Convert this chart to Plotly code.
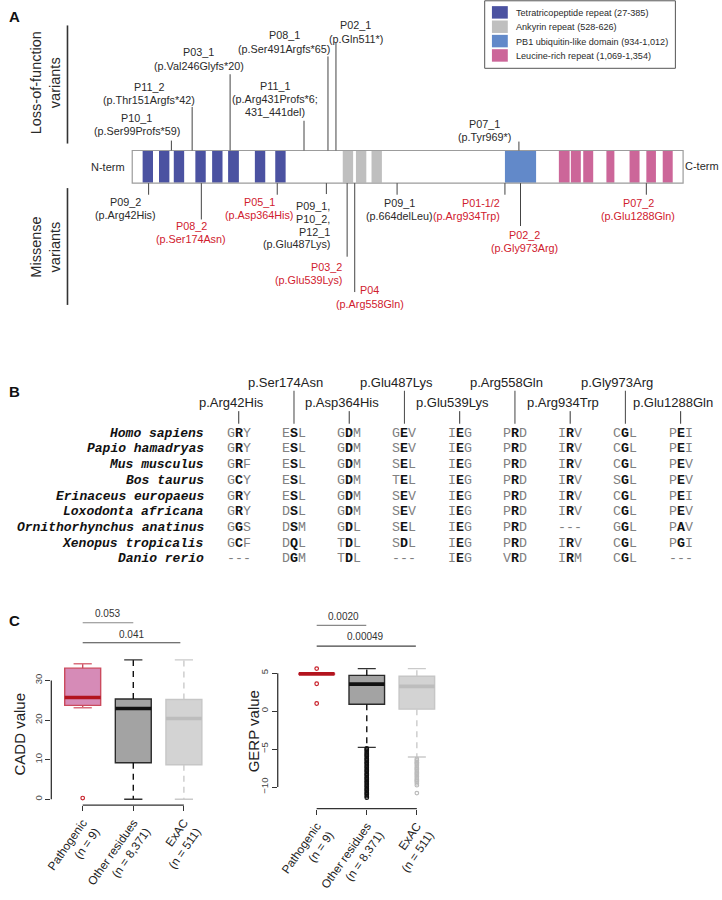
import plotly.graph_objects as go

W, H = 722, 900


def px(v):
    return v / W


def py(v):
    return 1 - v / H


SANS = "Liberation Sans, Arial, sans-serif"
MONO = "Liberation Mono, Courier New, monospace"
RED = "#D0202E"
DARK = "#2A2A2A"

# ---------------------------------------------------------------- data
protein_length = 1380
domain_names = ["Tetratricopeptide repeat (27-385)", "Ankyrin repeat (528-626)",
                "PB1 ubiquitin-like domain (934-1,012)", "Leucine-rich repeat (1,069-1,354)"]
domain_colors = ["#4B52A1", "#BFBFBF", "#6289C9", "#CC6699"]
tpr_starts = [27, 68, 105, 159, 201, 241, 308, 359]
tpr_ends = [53, 94, 131, 185, 227, 268, 334, 385]
ank_starts = [528, 561, 600]
ank_ends = [554, 587, 626]
pb1_starts = [934]
pb1_ends = [1012]
lrr_starts = [1069, 1099, 1130, 1188, 1246, 1288, 1329]
lrr_ends = [1096, 1124, 1155, 1208, 1271, 1312, 1354]

lof_ids = ["P10_1", "P11_2", "P03_1", "P11_1", "P08_1", "P02_1", "P07_1"]
lof_pos = [99, 151, 246, 431, 491, 511, 969]
lof_hgvs = ["(p.Ser99Profs*59)", "(p.Thr151Argfs*42)", "(p.Val246Glyfs*20)",
            "(p.Arg431Profs*6;|431_441del)", "(p.Ser491Argfs*65)", "(p.Gln511*)", "(p.Tyr969*)"]

mis_ids = ["P09_2", "P08_2", "P05_1", "P09_1,|P10_2,|P12_1", "P03_2", "P04", "P09_1",
           "P01-1/2", "P02_2", "P07_2"]
mis_pos = [42, 174, 364, 487, 539, 558, 664, 934, 973, 1288]
mis_hgvs = ["(p.Arg42His)", "(p.Ser174Asn)", "(p.Asp364His)", "(p.Glu487Lys)", "(p.Glu539Lys)",
            "(p.Arg558Gln)", "(p.664delLeu)", "(p.Arg934Trp)", "(p.Gly973Arg)", "(p.Glu1288Gln)"]
mis_pathogenic = [False, True, True, False, True, True, False, True, True, True]

species = ["Homo sapiens", "Papio hamadryas", "Mus musculus", "Bos taurus",
           "Erinaceus europaeus", "Loxodonta africana", "Ornithorhynchus anatinus",
           "Xenopus tropicalis", "Danio rerio"]
aln_variants = ["p.Arg42His", "p.Ser174Asn", "p.Asp364His", "p.Glu487Lys", "p.Glu539Lys",
                "p.Arg558Gln", "p.Arg934Trp", "p.Gly973Arg", "p.Glu1288Gln"]
aln_arg42 = ["GRY", "GRY", "GRF", "GCY", "GRY", "GRY", "GGS", "GCF", "---"]
aln_ser174 = ["ESL", "ESL", "ESL", "ESL", "ESL", "DSL", "DSM", "DQL", "DGM"]
aln_asp364 = ["GDM", "GDM", "GDM", "GDM", "GDM", "GDM", "GDL", "TDL", "TDL"]
aln_glu487 = ["GEV", "SEV", "SEL", "TEL", "SEV", "SEV", "SEL", "SDL", "---"]
aln_glu539 = ["IEG", "IEG", "IEG", "IEG", "IEG", "IEG", "IEG", "IEG", "IEG"]
aln_arg558 = ["PRD", "PRD", "PRD", "PRD", "PRD", "PRD", "PRD", "PRD", "VRD"]
aln_arg934 = ["IRV", "IRV", "IRV", "IRV", "IRV", "IRV", "---", "IRV", "IRM"]
aln_gly973 = ["CGL", "CGL", "CGL", "SGL", "CGL", "CGL", "GGL", "CGL", "CGL"]
aln_glu1288 = ["PEI", "PEI", "PEV", "PEV", "PEI", "PEV", "PAV", "PGI", "---"]

groups = ["Pathogenic", "Other residues", "ExAC"]
group_n = ["9", "8,371", "511"]
cadd_q1 = [23.7, 9.2, 8.7]
cadd_med = [25.7, 22.9, 20.4]
cadd_q3 = [33.1, 25.3, 25.2]
cadd_lo = [23.1, 0.0, 0.0]
cadd_hi = [34.2, 35.2, 35.2]
cadd_out_path = [0.3]
cadd_out_other = []
cadd_out_exac = []
cadd_ticks = [0, 10, 20, 30]
cadd_p = ["0.053", "0.041"]

gerp_q1 = [4.85, 0.91, 0.26]
gerp_med = [4.9, 3.56, 3.26]
gerp_q3 = [4.95, 4.7, 4.6]
gerp_lo = [4.85, -4.78, -6.05]
gerp_hi = [4.95, 5.6, 5.6]
gerp_out_path = [5.6, 3.6, 1.0]
gerp_out_other = [-4.9, -5.05, -5.2, -5.4, -5.55, -5.7, -5.85, -6.0, -6.2, -6.35, -6.5, -6.7,
                  -6.85, -7.0, -7.2, -7.35, -7.5, -7.7, -7.85, -8.0, -8.2, -8.35, -8.5, -8.7,
                  -8.85, -9.0, -9.2, -9.35, -9.5, -9.7, -9.85, -10.0, -10.2, -10.35, -10.5,
                  -10.7, -10.85, -11.0, -11.2, -11.4]
gerp_out_exac = [-6.3, -6.5, -6.7, -6.85, -7.0, -7.2, -7.4, -7.55, -7.7, -7.9, -8.1, -8.25,
                 -8.4, -8.6, -8.8, -9.0, -9.15, -9.3, -9.5, -9.75, -10.8]
gerp_ticks = [-10, -5, 0, 5]
gerp_p = ["0.0020", "0.00049"]

# ---------------------------------------------------------------- layout positions
lof_label_x = [131.7, 144, 194.5, 271.7, 280.8, 352.5, 482.5]
lof_label_y = [119, 87.7, 53, 87, 35.7, 25.7, 125]
lof_line_top = [142, 108, 75, 122, 57, 43, 143]
mis_label_x = [120, 187, 255.2, 328.7, 340.5, 366.6, 396.7, 500, 523.3, 637.3]
mis_anchor = ["center", "center", "center", "right", "right", "center", "center", "right",
              "center", "center"]
mis_label_y = [204, 228.3, 204.3, 208.3, 269.3, 293.3, 205, 205, 237.7, 205]
mis_line_bottom = [196.7, 221.7, 196.7, 196, 259.3, 295, 196.7, 196.7, 228.3, 196.7]

fig = go.Figure()
ann = []
shp = []


def txt(x, y, text, size=10.8, color=DARK, xanchor="center", yanchor="middle",
        family=SANS, angle=0, xref="paper", yref="paper"):
    ann.append(dict(x=x, y=y, xref=xref, yref=yref, text=text, showarrow=False,
                    font=dict(size=size, color=color, family=family),
                    xanchor=xanchor, yanchor=yanchor, textangle=angle))


def pline(x0, y0, x1, y1, color="#333", width=1.0, xref="paper", yref="paper", dash=None):
    d = dict(type="line", x0=x0, y0=y0, x1=x1, y1=y1, xref=xref, yref=yref,
             line=dict(color=color, width=width))
    if dash:
        d["line"]["dash"] = dash
    shp.append(d)


# ---------------------------------------------------------------- panel A
BAR_TOP, BAR_BOT = 152, 185
TRACK_Y = (BAR_TOP + BAR_BOT) / 2
all_starts = [tpr_starts, ank_starts, pb1_starts, lrr_starts]
all_ends = [tpr_ends, ank_ends, pb1_ends, lrr_ends]
for name, col, st, en in zip(domain_names, domain_colors, all_starts, all_ends):
    fig.add_trace(go.Bar(orientation="h", y=[TRACK_Y] * len(st), base=st,
                         x=[e - s for s, e in zip(st, en)], width=BAR_BOT - BAR_TOP - 1,
                         marker=dict(color=col, line=dict(width=0)), xaxis="x", yaxis="y",
                         hoverinfo="skip", name=name))
shp.append(dict(type="rect", xref="x", yref="y", x0=1, x1=protein_length, y0=BAR_TOP,
                y1=BAR_BOT, line=dict(color="#9C9C9C", width=1.2),
                fillcolor="rgba(0,0,0,0)", layer="above"))

for i, pos in enumerate(lof_pos):
    pline(pos, BAR_TOP, pos, lof_line_top[i], color="#444", width=1, xref="x", yref="y")
    lines = [lof_ids[i]] + lof_hgvs[i].split("|")
    for k, t in enumerate(lines):
        txt(px(lof_label_x[i]), lof_label_y[i] + k * 13.3, t, yref="y", color=DARK)

for i, pos in enumerate(mis_pos):
    pline(pos, BAR_BOT, pos, mis_line_bottom[i], color="#444", width=1, xref="x", yref="y")
    lines = mis_ids[i].split("|") + [mis_hgvs[i]]
    sp = 12.8 if len(lines) > 2 else 13.3
    col = RED if mis_pathogenic[i] else DARK
    for k, t in enumerate(lines):
        txt(px(mis_label_x[i]), mis_label_y[i] + k * sp, t, yref="y", color=col,
            xanchor=mis_anchor[i])

txt(px(103), TRACK_Y, "N-term", size=11, yref="y")
txt(px(721), TRACK_Y - 0.5, "C-term", size=11, yref="y", xanchor="right")

txt(px(39.5), py(84), "Loss-of-function<br>variants", size=14.5, angle=-90)
txt(px(39.5), py(250), "Missense<br>variants", size=14.5, angle=-90)
pline(px(62), py(25.7), px(62), py(145), color="#333", width=1.6)
pline(px(62), py(190), px(62), py(308), color="#333", width=1.6)

# legend
shp.append(dict(type="rect", xref="paper", yref="paper", x0=px(482.7), x1=px(675),
                y0=py(0.8), y1=py(69), line=dict(color="#555", width=1),
                fillcolor="white"))
leg_rows = [12.5, 27, 41.5, 56]
for name, col, ry in zip(domain_names, domain_colors, leg_rows):
    shp.append(dict(type="rect", xref="paper", yref="paper", x0=px(490), x1=px(506),
                    y0=py(ry - 6.3), y1=py(ry + 6.3), line=dict(width=0), fillcolor=col))
    txt(px(512.3), py(ry + 0.5), name, size=9.1, xanchor="left")

txt(px(1.5), py(16.7), "<b>A</b>", size=15, xanchor="left", color="#111")

# ---------------------------------------------------------------- panel B
txt(px(1.5), py(395), "<b>B</b>", size=15, xanchor="left", color="#111")
aln_cols = [aln_arg42, aln_ser174, aln_asp364, aln_glu487, aln_glu539, aln_arg558,
            aln_arg934, aln_gly973, aln_glu1288]
COL0, COLSTEP = 234.7, 55.7
ROW0, ROWSTEP = 437.7, 15.83
for j, spn in enumerate(species):
    txt(px(201.7), py(ROW0 + j * ROWSTEP), f"<b><i>{spn}</i></b>", size=13, family=MONO,
        xanchor="right", color="#111")
for i, (var, col) in enumerate(zip(aln_variants, aln_cols)):
    cx = COL0 + i * COLSTEP
    if i % 2 == 0:
        txt(px(cx - 7.5), py(407), var, size=13, color="#222")
        pline(px(cx), py(415.3), px(cx), py(428), color="#333", width=1)
    else:
        txt(px(cx - 8.5), py(386), var, size=13, color="#222")
        pline(px(cx), py(394.7), px(cx), py(428), color="#555", width=1.1)
    for j, tri in enumerate(col):
        if tri[1] == "-":
            t = f"<span style='color:#808080'>{tri}</span>"
        else:
            t = (f"<span style='color:#808080'>{tri[0]}</span><b>{tri[1]}</b>"
                 f"<span style='color:#808080'>{tri[2]}</span>")
        txt(px(cx), py(ROW0 + j * ROWSTEP), t, size=13.3, family=MONO, color="#111")

# ---------------------------------------------------------------- panel C
txt(px(1.5), py(626.7), "<b>C</b>", size=15, xanchor="left", color="#111")
BOXW = 0.71
CAPW = 0.18
box_fill = ["#D68BB7", "#A3A3A3", "#D3D3D3"]
box_line = ["#CB4B5E", "#2B2B2B", "#C6C6C6"]
med_col = ["#B3141E", "#111111", "#BDBDBD"]
wh_col = ["#CB4B5E", "#111111", "#CACACA"]
cap_col = ["#D9707E", "#333333", "#CACACA"]
out_col = ["#C8202A", "#111111", "#BBBBBB"]
cat_labels = [f"{g}<br>(n = {n})" for g, n in zip(groups, group_n)]


def box_panel(xa, ya, q1, med, q3, lo, hi, outs):
    for i in range(3):
        fig.add_trace(go.Box(x=[i], q1=[q1[i]], median=[med[i]], q3=[q3[i]],
                             lowerfence=[q1[i]], upperfence=[q3[i]], width=BOXW,
                             fillcolor=box_fill[i], line=dict(color=box_line[i], width=1.4),
                             whiskerwidth=0, boxpoints=False, xaxis=xa, yaxis=ya,
                             hoverinfo="skip"))
        for a, b in ((q3[i], hi[i]), (q1[i], lo[i])):
            if abs(b - a) > 1e-9:
                fig.add_trace(go.Scatter(x=[i, i], y=[a, b], mode="lines",
                                         line=dict(color=wh_col[i], width=1.4, dash="6px,5px"),
                                         xaxis=xa, yaxis=ya, hoverinfo="skip"))
                fig.add_trace(go.Scatter(x=[i - CAPW, i + CAPW], y=[b, b], mode="lines",
                                         line=dict(color=cap_col[i], width=1.4),
                                         xaxis=xa, yaxis=ya, hoverinfo="skip"))
        fig.add_trace(go.Scatter(x=[i - BOXW / 2, i + BOXW / 2], y=[med[i], med[i]],
                                 mode="lines", line=dict(color=med_col[i], width=3.6),
                                 xaxis=xa, yaxis=ya, hoverinfo="skip"))
        if outs[i]:
            fig.add_trace(go.Scatter(x=[i] * len(outs[i]), y=outs[i], mode="markers",
                                     marker=dict(symbol="circle-open", size=3.6,
                                                 color=out_col[i], line=dict(width=1.2)),
                                     xaxis=xa, yaxis=ya, hoverinfo="skip"))


box_panel("x2", "y2", cadd_q1, cadd_med, cadd_q3, cadd_lo, cadd_hi,
          [cadd_out_path, cadd_out_other, cadd_out_exac])
box_panel("x3", "y3", gerp_q1, gerp_med, gerp_q3, gerp_lo, gerp_hi,
          [gerp_out_path, gerp_out_other, gerp_out_exac])

for xa, ya, ticks in (("x2", "y2", cadd_ticks), ("x3", "y3", gerp_ticks)):
    pline(0, min(ticks), 0, max(ticks), xref=f"{xa} domain", yref=ya, color="#333", width=1.3)
    pline(0, 0, 2, 0, xref=xa, yref=f"{ya} domain", color="#333", width=1.3)

# significance bars
sig_y = [(629, 620), (649.3, 640.7)]
for (ly, ty), p, x1, tx, lc in zip(sig_y, cadd_p, [1, 1.93], [0.5, 0.96], ["#888", "#444"]):
    pline(0, py(ly), x1, py(ly), xref="x2", yref="paper", color=lc, width=1.1)
    txt(tx, py(ty), p, size=10, xref="x2", color="#333")
sig_y3 = [(631.7, 622.5), (652.7, 643.3)]
for (ly, ty), p, x1, tx, lc in zip(sig_y3, gerp_p, [0.99, 1.98], [0.53, 0.97], ["#888", "#444"]):
    pline(0, py(ly), x1, py(ly), xref="x3", yref="paper", color=lc, width=1.1)
    txt(tx, py(ty), p, size=10, xref="x3", color="#333")

txt(px(13.3), py(741.7), "CADD value", size=15, angle=-90, color="#222")
txt(px(249.5), py(738.3), "GERP value", size=15, angle=-90, color="#222")

axis_common = dict(showgrid=False, zeroline=False, showline=False, ticks="outside",
                   ticklen=5, tickcolor="#333", tickwidth=1.2, fixedrange=True)
xcat = dict(axis_common, tickvals=[0, 1, 2], ticktext=cat_labels, tickangle=-55,
            tickfont=dict(family=SANS, size=11.8, color="#222"))
ynum = dict(axis_common, tickangle=-90, tickfont=dict(family=SANS, size=9.5, color="#444"))

fig.update_layout(
    width=W, height=H, margin=dict(l=0, r=0, t=0, b=0, pad=0),
    paper_bgcolor="white", plot_bgcolor="rgba(0,0,0,0)", showlegend=False,
    barmode="overlay",
    xaxis=dict(range=[-315.0, 1477.4], domain=[0, 1], visible=False, fixedrange=True),
    yaxis=dict(range=[900, 0], domain=[0, 1], visible=False, fixedrange=True),
    xaxis2=dict(xcat, domain=[px(45.7), px(210)], range=[-0.62, 2.60], anchor="y2"),
    yaxis2=dict(ynum, domain=[py(813.3), py(660)], range=[-1.5, 36.83], anchor="x2",
                tickvals=cadd_ticks),
    xaxis3=dict(xcat, domain=[px(274), px(440)], range=[-0.778, 2.509], anchor="y3"),
    yaxis3=dict(ynum, domain=[py(816.7), py(660)], range=[-12.83, 7.60], anchor="x3",
                tickvals=gerp_ticks),
    annotations=ann, shapes=shp,
)

fig.write_html(
    "out.html",
    config={"displayModeBar": False},
    post_script="document.body.style.margin='0';document.body.style.padding='0';"
                "document.body.style.overflow='hidden';",
)
